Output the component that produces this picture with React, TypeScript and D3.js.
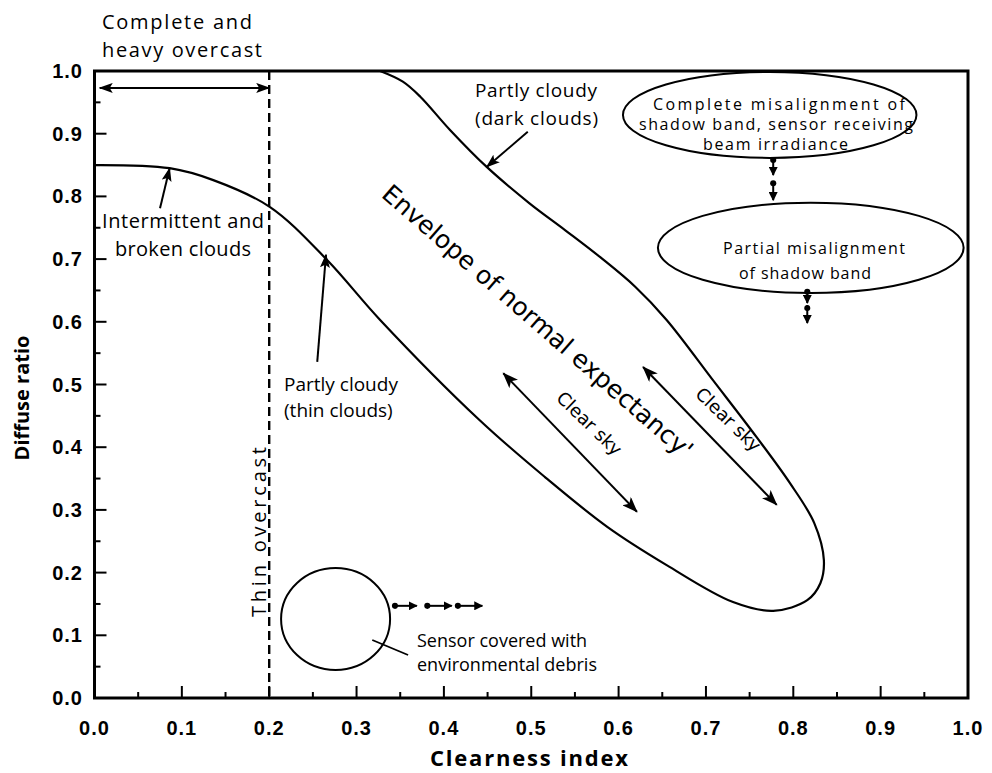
import React from "react";
import * as d3 from "d3";

const W = 992;
const H = 773;

// Axis ticks (value every 0.1, minor every 0.05)
const majorTicks = [0, 0.1, 0.2, 0.3, 0.4, 0.5, 0.6, 0.7, 0.8, 0.9, 1.0];
const minorTicks = [0.05, 0.15, 0.25, 0.35, 0.45, 0.55, 0.65, 0.75, 0.85, 0.95];
const tickLabels = ["0.0", "0.1", "0.2", "0.3", "0.4", "0.5", "0.6", "0.7", "0.8", "0.9", "1.0"];

// Envelope boundary: lower branch from the y axis, round the tip, back up to the top edge
const envelopeKt = [
  0.0, 0.086, 0.136, 0.201, 0.266, 0.327, 0.441, 0.516, 0.587, 0.655, 0.731, 0.777,
  0.816, 0.831, 0.835, 0.824, 0.796, 0.758, 0.708, 0.655, 0.619, 0.579, 0.539, 0.498,
  0.449, 0.407, 0.373, 0.353, 0.327,
];
const envelopeKd = [
  0.85, 0.845, 0.826, 0.783, 0.699, 0.603, 0.443, 0.352, 0.273, 0.212, 0.153, 0.139,
  0.156, 0.183, 0.22, 0.279, 0.343, 0.416, 0.507, 0.603, 0.656, 0.703, 0.746, 0.789,
  0.847, 0.906, 0.959, 0.983, 1.0,
];

const overcastLimit = 0.2;

// Pointer arrows: [fromX, fromY, toX, toY] in data units
const leaderArrows: [number, number, number, number][] = [
  [0.075, 0.781, 0.086, 0.845],
  [0.255, 0.536, 0.265, 0.707],
  [0.496, 0.903, 0.449, 0.847],
];
const clearSkyArrows: [number, number, number, number][] = [
  [0.468, 0.518, 0.621, 0.297],
  [0.628, 0.528, 0.781, 0.308],
];
const overcastArrow: [number, number, number, number] = [0.006, 0.973, 0.2, 0.973];

// Short dotted-tail arrows showing drift directions
const driftDown: [number, number, number, number][] = [
  [0.777, 0.858, 0.777, 0.834],
  [0.777, 0.821, 0.777, 0.794],
  [0.816, 0.648, 0.816, 0.63],
  [0.816, 0.622, 0.816, 0.598],
];
const driftRight: [number, number, number, number][] = [
  [0.344, 0.147, 0.369, 0.147],
  [0.381, 0.147, 0.409, 0.147],
  [0.416, 0.147, 0.444, 0.147],
];

// Ellipses: [cx, cy, rx, ry] in data units
const debrisRing = [0.276, 0.126, 0.0624, 0.0813];
const fullMisalign = [0.773, 0.93, 0.168, 0.0686];
const partialMisalign = [0.82, 0.718, 0.175, 0.072];

const x = d3.scaleLinear().domain([0, 1]).range([94.5, 968]);
const y = d3.scaleLinear().domain([0, 1]).range([698, 71]);

const annoFont = "'Open Sans', 'DejaVu Sans', sans-serif";
const tickFont = "'Liberation Sans', Arial, sans-serif";

export default function App() {
  const pts: [number, number][] = envelopeKt.map((k, i) => [k, envelopeKd[i]]);
  const envPath =
    d3
      .line<[number, number]>()
      .x((d) => x(d[0]))
      .y((d) => y(d[1]))
      .curve(d3.curveCatmullRom.alpha(0.5))(pts) || "";

  const seg = (a: [number, number, number, number], marker: string, sw: number, start?: string) => (
    <line
      x1={x(a[0])}
      y1={y(a[1])}
      x2={x(a[2])}
      y2={y(a[3])}
      stroke="#000"
      strokeWidth={sw}
      markerEnd={`url(#${marker})`}
      markerStart={start ? `url(#${start})` : undefined}
    />
  );

  const ell = (e: number[], sw = 2) => (
    <ellipse
      cx={x(e[0])}
      cy={y(e[1])}
      rx={x(e[2]) - x(0)}
      ry={y(0) - y(e[3])}
      fill="none"
      stroke="#000"
      strokeWidth={sw}
    />
  );

  return (
    <svg
      width={W}
      height={H}
      viewBox={`0 0 ${W} ${H}`}
      style={{ position: "absolute", left: 0, top: 0, background: "#fff" }}
    >
      <defs>
        <marker id="bigHead" markerUnits="userSpaceOnUse" viewBox="0 0 16 12" refX="15" refY="6" markerWidth="17" markerHeight="12" orient="auto-start-reverse">
          <path d="M0,0 L16,6 L0,12 L4,6 Z" fill="#000" />
        </marker>
        <marker id="midHead" markerUnits="userSpaceOnUse" viewBox="0 0 14 10" refX="13" refY="5" markerWidth="14" markerHeight="10" orient="auto-start-reverse">
          <path d="M0,0 L14,5 L0,10 L3,5 Z" fill="#000" />
        </marker>
        <marker id="smallHead" markerUnits="userSpaceOnUse" viewBox="0 0 10 10" refX="9" refY="5" markerWidth="9" markerHeight="9" orient="auto">
          <path d="M0,0 L10,5 L0,10 Z" fill="#000" />
        </marker>
        <marker id="dotTail" markerUnits="userSpaceOnUse" viewBox="0 0 8 8" refX="4" refY="4" markerWidth="7" markerHeight="7" orient="auto">
          <circle cx="4" cy="4" r="3.5" fill="#000" />
        </marker>
      </defs>

      {/* envelope of normal expectancy */}
      <path d={envPath} fill="none" stroke="#000" strokeWidth={2.2} />

      {/* thin-overcast boundary */}
      <line
        x1={x(overcastLimit)}
        x2={x(overcastLimit)}
        y1={y(1)}
        y2={y(0)}
        stroke="#000"
        strokeWidth={2.4}
        strokeDasharray="9 5"
      />

      {/* axes frame */}
      <rect x={x(0)} y={y(1)} width={x(1) - x(0)} height={y(0) - y(1)} fill="none" stroke="#000" strokeWidth={3} />

      {majorTicks.map((t) => (
        <g key={"mx" + t}>
          <line x1={x(t)} x2={x(t)} y1={y(0)} y2={y(0) - 12} stroke="#000" strokeWidth={2} />
          <line x1={x(0)} x2={x(0) + 12} y1={y(t)} y2={y(t)} stroke="#000" strokeWidth={2} />
        </g>
      ))}
      {minorTicks.map((t) => (
        <g key={"mn" + t}>
          <line x1={x(t)} x2={x(t)} y1={y(0)} y2={y(0) - 6} stroke="#000" strokeWidth={2} />
          <line x1={x(0)} x2={x(0) + 6} y1={y(t)} y2={y(t)} stroke="#000" strokeWidth={2} />
        </g>
      ))}

      {majorTicks.map((t, i) => (
        <text key={"lx" + t} x={x(t)} y={735} textAnchor="middle" fontFamily={tickFont} fontWeight="bold" fontSize={20} letterSpacing={1}>
          {tickLabels[i]}
        </text>
      ))}
      {majorTicks.map((t, i) => (
        <text key={"ly" + t} x={83} y={y(t) + 7} textAnchor="end" fontFamily={tickFont} fontWeight="bold" fontSize={20} letterSpacing={1}>
          {tickLabels[i]}
        </text>
      ))}

      <text x={430} y={766} fontFamily={annoFont} fontWeight="bold" fontSize={22} textLength={198} lengthAdjust="spacing">
        Clearness index
      </text>
      <text transform="translate(29,398) rotate(-90)" textAnchor="middle" fontFamily={annoFont} fontWeight="bold" fontSize={20}>
        Diffuse ratio
      </text>

      {/* overcast span */}
      {seg(overcastArrow, "midHead", 2, "midHead")}
      <text fontFamily={annoFont} fontSize={20} x={102} y={29} textLength={150} lengthAdjust="spacing">Complete and</text>
      <text fontFamily={annoFont} fontSize={20} x={102} y={57} textLength={160} lengthAdjust="spacing">heavy overcast</text>

      {/* leader arrows */}
      {leaderArrows.map((a, i) => (
        <g key={"ld" + i}>{seg(a, "midHead", 2)}</g>
      ))}
      <text fontFamily={annoFont} fontSize={20} x={102} y={228} textLength={162} lengthAdjust="spacing">Intermittent and</text>
      <text fontFamily={annoFont} fontSize={20} x={115} y={256} textLength={136} lengthAdjust="spacing">broken clouds</text>
      <text fontFamily={annoFont} fontSize={19} x={284} y={391}>Partly cloudy</text>
      <text fontFamily={annoFont} fontSize={19} x={284} y={417}>(thin clouds)</text>
      <text fontFamily={annoFont} fontSize={19} x={475} y={97} textLength={122} lengthAdjust="spacing">Partly cloudy</text>
      <text fontFamily={annoFont} fontSize={19} x={475} y={125} textLength={123} lengthAdjust="spacing">(dark clouds)</text>

      <text
        transform="translate(266,532) rotate(-90)"
        textAnchor="middle"
        fontFamily={annoFont}
        fontSize={20}
        textLength={170}
        lengthAdjust="spacing"
      >
        Thin overcast
      </text>

      {/* envelope caption */}
      <text
        transform="translate(532,328) rotate(41)"
        textAnchor="middle"
        fontFamily="'DejaVu Sans', sans-serif"
        fontSize={25}
      >
        Envelope of normal expectancy'
      </text>

      {/* clear-sky directions */}
      {clearSkyArrows.map((a, i) => (
        <g key={"cs" + i}>{seg(a, "bigHead", 2, "bigHead")}</g>
      ))}
      <text transform="translate(585,428) rotate(44)" textAnchor="middle" fontFamily="'DejaVu Sans', sans-serif" fontSize={18}>
        Clear sky
      </text>
      <text transform="translate(724,424) rotate(44)" textAnchor="middle" fontFamily="'DejaVu Sans', sans-serif" fontSize={18}>
        Clear sky
      </text>

      {/* shadow band misalignment */}
      {ell(fullMisalign)}
      {ell(partialMisalign)}
      <g fontFamily={annoFont} fontSize={16}>
        <text x={653} y={110} textLength={252} lengthAdjust="spacing">Complete misalignment of</text>
        <text x={639} y={130} textLength={274} lengthAdjust="spacing">shadow band, sensor receiving</text>
        <text x={703} y={150} textLength={145} lengthAdjust="spacing">beam irradiance</text>
        <text x={723} y={254} textLength={182} lengthAdjust="spacing">Partial misalignment</text>
        <text x={739} y={279} textLength={132} lengthAdjust="spacing">of shadow band</text>
      </g>
      {driftDown.map((a, i) => (
        <g key={"dd" + i}>{seg(a, "smallHead", 2, "dotTail")}</g>
      ))}

      {/* debris on sensor */}
      {ell(debrisRing)}
      {driftRight.map((a, i) => (
        <g key={"dr" + i}>{seg(a, "smallHead", 2, "dotTail")}</g>
      ))}
      <line x1={x(0.318)} y1={y(0.0925)} x2={x(0.359)} y2={y(0.0686)} stroke="#000" strokeWidth={1.8} />
      <text fontFamily={annoFont} fontSize={18} x={417} y={647}>Sensor covered with</text>
      <text fontFamily={annoFont} fontSize={18} x={417} y={671}>environmental debris</text>
    </svg>
  );
}
